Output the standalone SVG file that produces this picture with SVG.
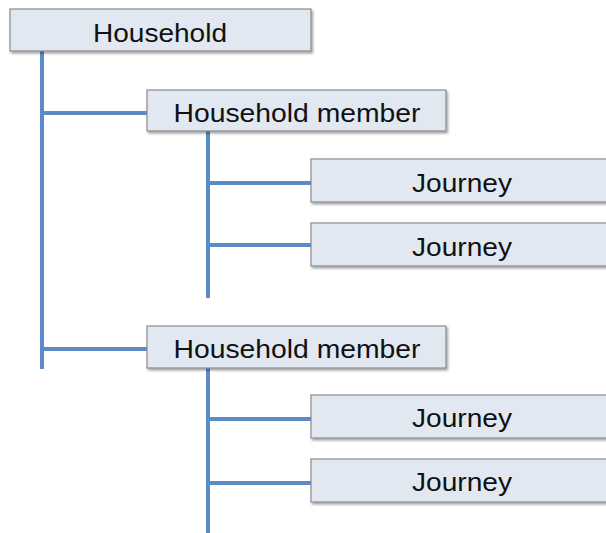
<svg xmlns="http://www.w3.org/2000/svg" width="606" height="533" viewBox="0 0 606 533">
  <defs>
    <filter id="shadow" x="-5%" y="-20%" width="110%" height="150%">
      <feDropShadow dx="1.5" dy="2" stdDeviation="1.2" flood-color="#000" flood-opacity="0.35"/>
    </filter>
  </defs>
  <style>
    .box { fill: #e1e8f1; stroke: #8a8a8a; stroke-width: 1.2; filter: url(#shadow); }
    .label { font-family: "Liberation Sans", Arial, sans-serif; font-size: 26.5px; fill: #111; text-anchor: middle; }
    .link { stroke: #5b8bc6; stroke-width: 4; fill: none; }
  </style>

  <!-- tree connectors -->
  <g id="connectors">
    <line class="link" x1="42" y1="51" x2="42" y2="369"/>
    <line class="link" x1="42" y1="113" x2="147" y2="113"/>
    <line class="link" x1="42" y1="349" x2="147" y2="349"/>
    <line class="link" x1="208" y1="131" x2="208" y2="298"/>
    <line class="link" x1="208" y1="183" x2="311" y2="183"/>
    <line class="link" x1="208" y1="245" x2="311" y2="245"/>
    <line class="link" x1="208" y1="368" x2="208" y2="533"/>
    <line class="link" x1="208" y1="419" x2="311" y2="419"/>
    <line class="link" x1="208" y1="483" x2="311" y2="483"/>
  </g>

  <g id="household">
    <rect class="box" x="10" y="9" width="301" height="42"/>
    <text class="label" x="160" y="42" textLength="134" lengthAdjust="spacingAndGlyphs">Household</text>
  </g>

  <g id="member-1">
    <rect class="box" x="147" y="90" width="299" height="41"/>
    <text class="label" x="297" y="122" textLength="247" lengthAdjust="spacingAndGlyphs">Household member</text>
  </g>

  <g id="journey-1-1">
    <rect class="box" x="311" y="159" width="302" height="43"/>
    <text class="label" x="462" y="192" textLength="100" lengthAdjust="spacingAndGlyphs">Journey</text>
  </g>

  <g id="journey-1-2">
    <rect class="box" x="311" y="223" width="302" height="43"/>
    <text class="label" x="462" y="256" textLength="100" lengthAdjust="spacingAndGlyphs">Journey</text>
  </g>

  <g id="member-2">
    <rect class="box" x="147" y="326" width="299" height="42"/>
    <text class="label" x="297" y="358" textLength="247" lengthAdjust="spacingAndGlyphs">Household member</text>
  </g>

  <g id="journey-2-1">
    <rect class="box" x="311" y="395" width="302" height="43"/>
    <text class="label" x="462" y="427" textLength="100" lengthAdjust="spacingAndGlyphs">Journey</text>
  </g>

  <g id="journey-2-2">
    <rect class="box" x="311" y="459" width="302" height="43"/>
    <text class="label" x="462" y="491" textLength="100" lengthAdjust="spacingAndGlyphs">Journey</text>
  </g>
</svg>
